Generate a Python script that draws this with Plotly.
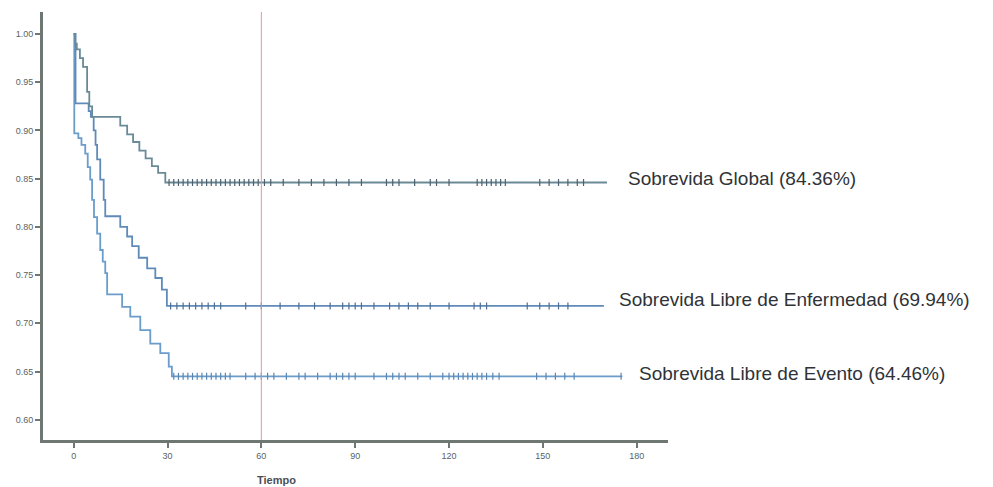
import numpy as np
import plotly.graph_objects as go

# ---- data ----
global_t = [0, 0.5, 1, 2, 3, 4.3, 5.0, 5.9, 14.9, 17.1, 19.0, 21.0, 23.0, 25.0, 27.0, 29.3, 170.5]
global_s = [1.0, 0.99, 0.984, 0.975, 0.966, 0.94, 0.925, 0.914, 0.905, 0.896, 0.888, 0.879, 0.871, 0.863, 0.856, 0.846, 0.846]

dfs_t = [0, 0.6, 4.8, 5.5, 6.4, 7.0, 7.5, 8.5, 9.6, 10.1, 14.9, 17.1, 18.7, 20.8, 23.5, 26.1, 28.2, 29.8, 169.5]
dfs_s = [1.0, 0.928, 0.92, 0.914, 0.90, 0.885, 0.87, 0.849, 0.828, 0.811, 0.800, 0.790, 0.780, 0.768, 0.757, 0.747, 0.735, 0.718, 0.718]

efs_t = [0, 0.2, 1.5, 2.5, 3.7, 4.5, 5.3, 5.9, 6.5, 7.5, 8.5, 9.3, 10.1, 10.7, 15.5, 18.1, 21.3, 24.5, 27.7, 30.4, 31.4, 175.4]
efs_s = [1.0, 0.897, 0.892, 0.885, 0.876, 0.862, 0.849, 0.828, 0.81, 0.793, 0.776, 0.764, 0.752, 0.730, 0.717, 0.707, 0.693, 0.679, 0.669, 0.655, 0.645, 0.645]

global_cens = [30.5, 32, 33.5, 35, 36.5, 38, 39.5, 41, 42.5, 44, 45.5, 47, 48.5, 50, 51.5, 53, 54.5, 56, 57.5, 59, 61, 63, 67,
               72, 76, 80, 84, 88, 92, 100, 102, 104, 109, 114, 116, 120, 129, 130.5, 132, 133.5, 135, 136.5, 138,
               149, 152, 155, 158, 161, 163]
dfs_cens = [31, 33, 35, 37, 39, 41, 43, 45, 47, 55, 60, 66, 72, 77, 82, 86, 88, 90, 92, 96, 101, 104, 107, 110, 114, 120,
            128, 130, 132, 145, 149, 152, 155, 158]
efs_cens = [32, 33.5, 35, 36.5, 38, 39.5, 41, 42.5, 44, 45.5, 47, 48.5, 50, 55, 58, 60, 62, 64, 68, 72, 74, 78, 82, 84, 86,
            88, 90, 96, 100, 102, 104, 106, 110, 114, 118, 120, 121.5, 123, 124.5, 126, 127.5, 129, 130.5, 132, 134, 136,
            148, 151, 154, 157, 160, 175]

x_ticks = [0, 30, 60, 90, 120, 150, 180]
y_ticks = [0.60, 0.65, 0.70, 0.75, 0.80, 0.85, 0.90, 0.95, 1.00]

labels = ["Sobrevida Global (84.36%)",
          "Sobrevida Libre de Enfermedad (69.94%)",
          "Sobrevida Libre de Evento (64.46%)"]
cutoff = 60


def surv_at(times, surv, pts):
    idx = np.searchsorted(np.array(times), np.array(pts), side="right") - 1
    return [surv[i] for i in idx]


fig = go.Figure()

series = [
    (efs_t, efs_s, efs_cens, "#6a9ccc", "#5a86b0"),
    (dfs_t, dfs_s, dfs_cens, "#5f8bb8", "#4f6f90"),
    (global_t, global_s, global_cens, "#6a8a96", "#4c606e"),
]
for t, s, c, col, ccol in series:
    fig.add_trace(go.Scatter(x=t, y=s, mode="lines", line=dict(color=col, width=1.8, shape="hv"),
                             showlegend=False, hoverinfo="skip"))
    fig.add_trace(go.Scatter(x=c, y=surv_at(t, s, c), mode="markers",
                             marker=dict(symbol="line-ns", size=5, line=dict(color=ccol, width=1.2)),
                             showlegend=False, hoverinfo="skip"))

fig.add_shape(type="line", xref="x", yref="paper", x0=cutoff, x1=cutoff, y0=0, y1=1,
              line=dict(color="#e8939c", width=1))

label_x = [176.6, 173.7, 180.1]
label_y = [0.850, 0.725, 0.648]
for lx, ly, txt in zip(label_x, label_y, labels):
    fig.add_annotation(x=lx, y=ly, xref="x", yref="y", text=txt, showarrow=False,
                       xanchor="left", yanchor="middle",
                       font=dict(family="Liberation Sans, Arial", size=19, color="#2f3338"))

fig.add_annotation(x=65, y=-0.0935, xref="x", yref="paper", text="<b>Tiempo</b>", showarrow=False,
                   xanchor="center", yanchor="middle",
                   font=dict(family="Liberation Sans, Arial", size=11, color="#4a4f55"))

axis_common = dict(showline=True, linecolor="#6f7773", linewidth=3, ticks="outside", ticklen=5,
                   tickwidth=2, tickcolor="#6f7773", showgrid=False, zeroline=False, automargin=False,
                   tickfont=dict(family="Liberation Sans, Arial", size=9, color="#5a5f64"))

fig.update_xaxes(range=[-9.8, 190], tickvals=x_ticks, ticktext=[str(v) for v in x_ticks], **axis_common)
fig.update_yaxes(range=[0.579, 1.0228], tickvals=y_ticks, ticktext=[f"{v:.2f}" for v in y_ticks], **axis_common)

# the page places the figure 8px from the top-left corner; margins account for that
fig.update_layout(width=993, height=487, margin=dict(l=35, r=333, t=4, b=55),
                  paper_bgcolor="white", plot_bgcolor="white")

fig.write_html("out.html")
